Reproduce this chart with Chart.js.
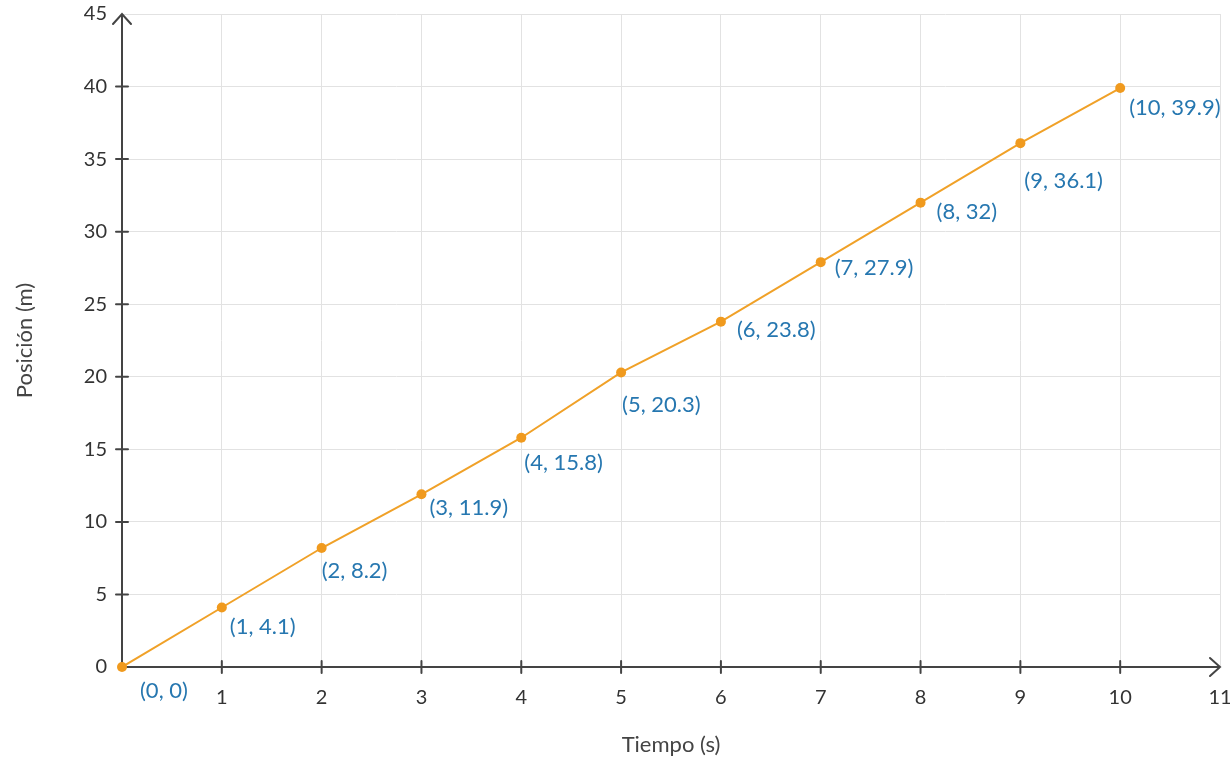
<!DOCTYPE html>
<html>
<head>
<meta charset="utf-8">
<script src="https://cdn.jsdelivr.net/npm/chart.js@4/dist/chart.umd.min.js"></script>
<style>
  html, body { margin: 0; padding: 0; background: #fff; }
  #wrap { width: 1230px; height: 761px; }
</style>
</head>
<body>
<div id="wrap"><canvas id="myChart"></canvas></div>
<script>
// data
const tiempo = [0, 1, 2, 3, 4, 5, 6, 7, 8, 9, 10];
const posicion = [0, 4.1, 8.2, 11.9, 15.8, 20.3, 23.8, 27.9, 32, 36.1, 39.9];
const xTitle = 'Tiempo (s)';
const yTitle = 'Posición (m)';

// where each point label sits, relative to its point (px)
const labelDx = [18, 8, 0, 8, 3, 1, 16, 14, 16, 4, 9];
const labelDy = [24, 19, 23, 14, 25, 32, 8, 6, 9, 38, 20];

const FONT = 'Lato, "Open Sans", sans-serif';
const AXIS = '#444';

const axesPlugin = {
  id: 'axesPlugin',
  afterDatasetsDraw(chart) {
    const ctx = chart.ctx;
    const xs = chart.scales.x, ys = chart.scales.y;
    const x0 = xs.getPixelForValue(0), y0 = ys.getPixelForValue(0);
    const xEnd = xs.getPixelForValue(11), yEnd = ys.getPixelForValue(45);
    ctx.save();
    ctx.strokeStyle = AXIS;
    ctx.lineWidth = 2;
    ctx.lineCap = 'round';
    ctx.beginPath();
    ctx.moveTo(x0, y0); ctx.lineTo(x0, yEnd);
    ctx.moveTo(x0 - 9, yEnd + 10); ctx.lineTo(x0, yEnd); ctx.lineTo(x0 + 9, yEnd + 10);
    ctx.moveTo(x0, y0); ctx.lineTo(xEnd, y0);
    ctx.moveTo(xEnd - 10, y0 - 9); ctx.lineTo(xEnd, y0); ctx.lineTo(xEnd - 10, y0 + 9);
    for (let v = 5; v < 45; v += 5) {
      const p = ys.getPixelForValue(v);
      ctx.moveTo(x0 - 6, p); ctx.lineTo(x0 + 6, p);
    }
    for (let v = 1; v <= 10; v++) {
      const p = xs.getPixelForValue(v);
      ctx.moveTo(p, y0 - 6); ctx.lineTo(p, y0 + 6);
    }
    ctx.stroke();

    // redraw the points over the axes
    const meta = chart.getDatasetMeta(0);
    ctx.fillStyle = '#f09a1e';
    meta.data.forEach(pt => {
      ctx.beginPath();
      ctx.arc(pt.x, pt.y, 5, 0, Math.PI * 2);
      ctx.fill();
    });

    // point labels
    ctx.fillStyle = '#2677b0';
    ctx.font = '22px ' + FONT;
    ctx.textAlign = 'left';
    ctx.textBaseline = 'middle';
    meta.data.forEach((pt, i) => {
      ctx.fillText('(' + tiempo[i] + ', ' + posicion[i] + ')', pt.x + labelDx[i], pt.y + labelDy[i]);
    });
    ctx.restore();
  }
};

new Chart(document.getElementById('myChart'), {
  type: 'scatter',
  data: {
    datasets: [{
      data: tiempo.map((t, i) => ({ x: t, y: posicion[i] })),
      showLine: true,
      borderColor: '#f0a128',
      borderWidth: 2,
      pointRadius: 0,
      backgroundColor: '#f09a1e'
    }]
  },
  plugins: [axesPlugin],
  options: {
    responsive: true,
    maintainAspectRatio: false,
    animation: false,
    layout: { padding: { top: 14, right: 10, left: 0, bottom: 0 } },
    plugins: { legend: { display: false }, tooltip: { enabled: false } },
    scales: {
      x: {
        type: 'linear',
        min: 0, max: 11,
        afterFit(s) { s.height = 94; s.paddingLeft = 0; s.paddingRight = 0; },
        border: { display: false },
        grid: { color: '#e2e2e2', lineWidth: 1, drawTicks: false },
        ticks: {
          stepSize: 1,
          padding: 19,
          color: '#333',
          font: { family: FONT, size: 20 },
          callback: v => v === 0 ? '' : v
        },
        title: {
          display: true, text: xTitle, color: '#444',
          font: { family: FONT, size: 22 },
          padding: { top: 0, bottom: 3 }
        }
      },
      y: {
        min: 0, max: 45,
        afterFit(s) { s.width = 122; s.paddingTop = 0; s.paddingBottom = 0; },
        border: { display: false },
        grid: { color: '#e2e2e2', lineWidth: 1, drawTicks: false },
        ticks: {
          stepSize: 5,
          padding: 15,
          color: '#333',
          font: { family: FONT, size: 20 }
        },
        title: {
          display: true, text: yTitle, color: '#444',
          font: { family: FONT, size: 22 },
          padding: { top: 12, bottom: 0 }
        }
      }
    }
  }
});
</script>
</body>
</html>
